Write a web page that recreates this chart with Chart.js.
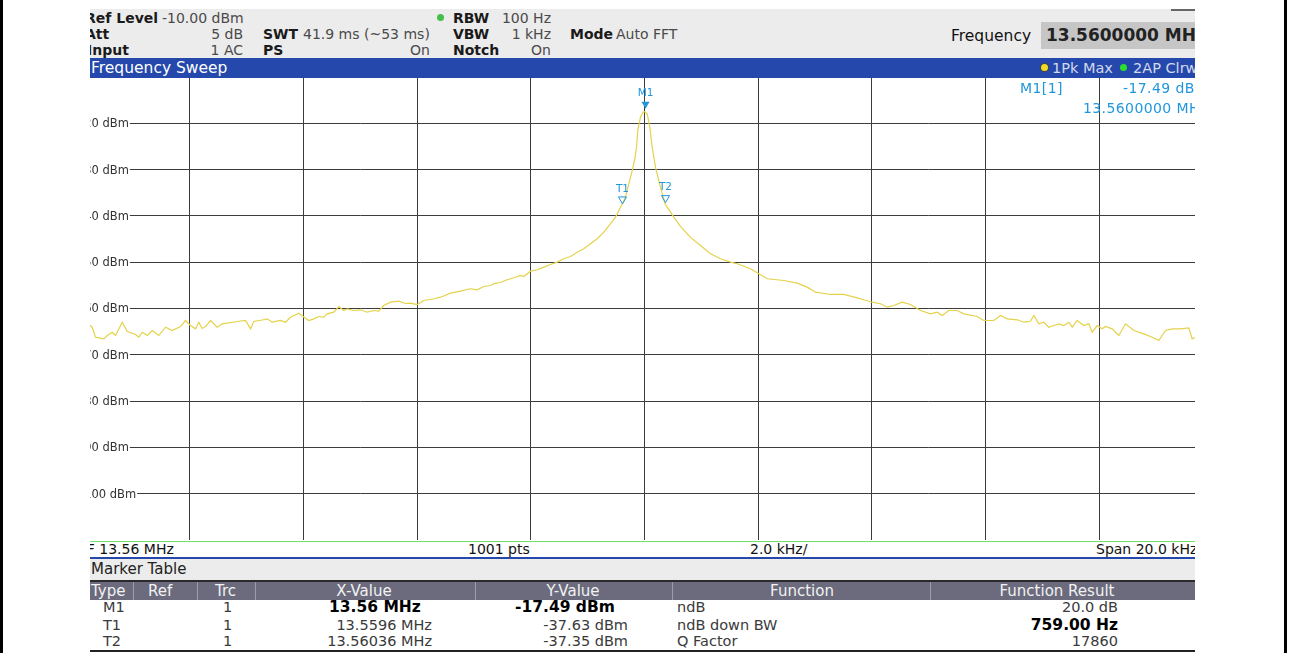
<!DOCTYPE html>
<html>
<head>
<meta charset="utf-8">
<title>Frequency Sweep</title>
<script src="https://cdn.jsdelivr.net/npm/chart.js@4.4.1/dist/chart.umd.min.js"></script>
<style>
  body { margin: 0; width: 1294px; height: 653px; background: #fff; position: relative; overflow: hidden;
         font-family: "DejaVu Sans", sans-serif; }
  .box { position: absolute; overflow: hidden; }
  .t { position: absolute; white-space: nowrap; line-height: 16px; height: 16px; font-size: 14px; color: #4a4a4a; }
  .b { font-weight: bold; color: #1a1a1a; }
  .c { transform: translateX(-50%); }
  .edge { position: absolute; top: 0; width: 3px; height: 653px; background: #000; }
  .dot { position: absolute; width: 7px; height: 7px; border-radius: 50%; }
  .sep { position: absolute; top: 0; width: 1px; height: 18px; background: #9c9cac; }
  #hdr { left: 90px; top: 9px; width: 1105px; height: 49px; background: #ececec; }
  #bar { left: 90px; top: 58px; width: 1105px; height: 20px; background: #2448ac; }
  #bar .t { line-height: 20px; height: 20px; color: #d4dae8; font-size: 14.5px; }
  #plot { left: 90px; top: 78px; width: 1105px; height: 463px; background: #fff; }
  #plot canvas { position: absolute; left: -14px; top: -1px; }
  #plot .t { color: #2196dc; font-size: 14px; letter-spacing: 0.4px; }
  #stat { left: 90px; top: 542px; width: 1105px; height: 15px; }
  #stat .t { line-height: 15px; height: 15px; color: #111; }
  #mtitle { left: 90px; top: 559px; width: 1105px; height: 21px; background: #ececec; }
  #mhead { left: 90px; top: 582px; width: 1105px; height: 18px; background: #6b6b7d; }
  #mhead .t { line-height: 18px; height: 18px; color: #f2f2f2; font-size: 15px; }
  #mrows { left: 90px; top: 600px; width: 1105px; height: 50px; }
  #mrows .t { font-size: 14.5px; color: #3a3a3a; }
  #mrows .b { font-size: 15.5px; color: #000; }
</style>
</head>
<body>
<div class="edge" style="left:0"></div>
<div class="edge" style="left:1284px"></div>

<div id="hdr" class="box">
  <span class="t b" style="left:-5px;top:1px">Ref Level</span>
  <span class="t" style="left:72px;top:1px">-10.00 dBm</span>
  <span class="t b" style="left:-5px;top:17px">Att</span>
  <span class="t" style="right:952px;top:17px">5 dB</span>
  <span class="t b" style="left:-3px;top:33px">Input</span>
  <span class="t" style="right:952px;top:33px">1 AC</span>
  <span class="t b" style="left:173px;top:17px">SWT</span>
  <span class="t" style="left:213px;top:17px">41.9 ms (~53 ms)</span>
  <span class="t b" style="left:173px;top:33px">PS</span>
  <span class="t" style="right:765px;top:33px">On</span>
  <span class="dot" style="left:347px;top:5px;background:#43c04a"></span>
  <span class="t b" style="left:363px;top:1px">RBW</span>
  <span class="t" style="right:644px;top:1px">100 Hz</span>
  <span class="t b" style="left:363px;top:17px">VBW</span>
  <span class="t" style="right:644px;top:17px">1 kHz</span>
  <span class="t b" style="left:363px;top:33px">Notch</span>
  <span class="t" style="right:644px;top:33px">On</span>
  <span class="t b" style="left:480px;top:17px">Mode</span>
  <span class="t" style="left:526px;top:17px">Auto FFT</span>
  <span class="t" style="left:861px;top:18px;font-size:15.5px;line-height:18px;height:18px;color:#111">Frequency</span>
  <div class="box" style="left:951px;top:13px;width:160px;height:27px;background:#c6c6c6">
    <span class="t b" style="left:5px;top:0;line-height:27px;height:27px;font-size:17px;color:#222">13.5600000 MHz</span>
  </div>
  <div class="box" style="left:1081px;top:0;width:30px;height:2px;background:#666"></div>
</div>

<div id="bar" class="box">
  <span class="t" style="left:1px;top:0;color:#fff;font-size:15.5px">Frequency Sweep</span>
  <span class="dot" style="left:951px;top:6px;background:#f0dc28;box-shadow:0 0 0 1px #444"></span>
  <span class="t" style="left:962px;top:0">1Pk Max</span>
  <span class="dot" style="left:1030px;top:6px;background:#2ee02e"></span>
  <span class="t" style="left:1043px;top:0">2AP Clrw</span>
</div>

<div id="plot" class="box">
  <canvas id="sweep" width="1137" height="463"></canvas>
  <span class="t" style="left:930px;top:2px">M1[1]</span>
  <span class="t" style="left:1033px;top:2px">-17.49 dBm</span>
  <span class="t" style="left:993px;top:22px">13.5600000 MHz</span>
</div>

<div class="box" style="left:90px;top:541px;width:1105px;height:1px;background:#6ee36e"></div>
<div id="stat" class="box">
  <span class="t" style="left:-13px;top:0">CF 13.56 MHz</span>
  <span class="t" style="left:378px;top:0">1001 pts</span>
  <span class="t" style="left:660px;top:0">2.0 kHz/</span>
  <span class="t" style="left:1006px;top:0">Span 20.0 kHz</span>
</div>
<div class="box" style="left:90px;top:557px;width:1105px;height:2px;background:#2448ac"></div>
<div id="mtitle" class="box">
  <span class="t" style="left:1px;top:0;line-height:21px;height:21px;font-size:15px;color:#222">Marker Table</span>
</div>
<div class="box" style="left:90px;top:580px;width:1105px;height:2px;background:#2a2a2a"></div>
<div id="mhead" class="box">
  <span class="t" style="left:1px;top:0">Type</span>
  <span class="sep" style="left:43px"></span>
  <span class="t" style="left:58px;top:0">Ref</span>
  <span class="sep" style="left:107px"></span>
  <span class="t" style="left:125px;top:0">Trc</span>
  <span class="sep" style="left:165px"></span>
  <span class="t c" style="left:274px;top:0">X-Value</span>
  <span class="sep" style="left:385px"></span>
  <span class="t c" style="left:483px;top:0">Y-Value</span>
  <span class="sep" style="left:582px"></span>
  <span class="t c" style="left:712px;top:0">Function</span>
  <span class="sep" style="left:840px"></span>
  <span class="t c" style="left:967px;top:0">Function Result</span>
</div>
<div id="mrows" class="box">
  <span class="t" style="left:13px;top:-1px">M1</span>
  <span class="t" style="left:133px;top:-1px">1</span>
  <span class="t b" style="left:239px;top:-1px">13.56 MHz</span>
  <span class="t b" style="left:425px;top:-1px">-17.49 dBm</span>
  <span class="t" style="left:587px;top:-1px">ndB</span>
  <span class="t" style="right:77px;top:-1px">20.0 dB</span>

  <span class="t" style="left:13px;top:17px">T1</span>
  <span class="t" style="left:133px;top:17px">1</span>
  <span class="t" style="right:763px;top:17px">13.5596 MHz</span>
  <span class="t" style="right:567px;top:17px">-37.63 dBm</span>
  <span class="t" style="left:587px;top:17px">ndB down BW</span>
  <span class="t b" style="right:77px;top:17px">759.00 Hz</span>

  <span class="t" style="left:13px;top:33px">T2</span>
  <span class="t" style="left:133px;top:33px">1</span>
  <span class="t" style="right:763px;top:33px">13.56036 MHz</span>
  <span class="t" style="right:567px;top:33px">-37.35 dBm</span>
  <span class="t" style="left:587px;top:33px">Q Factor</span>
  <span class="t" style="right:77px;top:33px">17860</span>
</div>
<div class="box" style="left:90px;top:650px;width:1105px;height:2px;background:#222"></div>

<script>
// trace 1 (1Pk Max), offset from CF 13.56 MHz in kHz and level in dBm
const offsetKHz = [
  -9.800, -9.715, -9.657, -9.511, -9.451, -9.363, -9.305, -9.187, -9.099, -8.953,
  -8.895, -8.835, -8.747, -8.659, -8.543, -8.426, -8.308, -8.162, -8.074, -7.986,
  -7.898, -7.840, -7.780, -7.722, -7.634, -7.516, -7.428, -7.164, -7.018, -6.930,
  -6.873, -6.725, -6.637, -6.549, -6.403, -6.315, -6.227, -6.081, -6.003, -5.905,
  -5.817, -5.729, -5.641, -5.581, -5.465, -5.377, -5.289, -5.230, -5.113, -4.996,
  -4.878, -4.762, -4.674, -4.586, -4.468, -4.322, -4.204, -4.116, -3.998, -3.882,
  -3.706, -3.588, -3.412, -3.236, -3.060, -2.942, -2.826, -2.709, -2.621, -2.533,
  -2.415, -2.299, -2.181, -2.123, -2.005, -1.887, -1.771, -1.653, -1.536, -1.420,
  -1.302, -1.184, -1.068, -0.950, -0.832, -0.716, -0.598, -0.510, -0.400, -0.334,
  -0.290, -0.216, -0.176, -0.141, -0.118, -0.070, -0.023, 0.000, 0.047, 0.093,
  0.135, 0.193, 0.281, 0.360, 0.515, 0.633, 0.809, 0.985, 1.161, 1.337,
  1.513, 1.631, 1.865, 2.011, 2.159, 2.450, 2.686, 2.862, 3.008, 3.272,
  3.506, 3.741, 3.858, 4.005, 4.151, 4.269, 4.385, 4.533, 4.679, 4.855,
  5.031, 5.149, 5.237, 5.353, 5.501, 5.617, 5.852, 5.968, 6.144, 6.262,
  6.380, 6.556, 6.672, 6.790, 6.848, 6.936, 7.024, 7.112, 7.200, 7.288,
  7.376, 7.464, 7.524, 7.612, 7.728, 7.816, 7.875, 7.963, 8.051, 8.109,
  8.227, 8.343, 8.461, 8.607, 8.783, 8.931, 9.047, 9.164, 9.282, 9.428,
  9.574, 9.634, 9.692, 9.800
];
const levelDbm = [
  -63.20, -64.04, -66.20, -66.55, -65.84, -65.12, -65.84, -62.96, -64.97, -65.62,
  -66.20, -65.12, -65.84, -64.76, -65.84, -64.04, -64.76, -63.89, -62.59, -63.68,
  -64.39, -62.96, -64.32, -63.89, -62.59, -64.04, -63.31, -62.81, -62.59, -64.39,
  -62.81, -62.49, -62.23, -62.96, -62.59, -62.96, -61.88, -61.02, -61.73, -62.59,
  -62.23, -61.73, -61.88, -61.15, -60.80, -59.57, -60.43, -60.07, -60.43, -60.28,
  -60.80, -60.43, -60.58, -59.35, -58.64, -58.42, -58.92, -58.85, -59.14, -58.27,
  -57.90, -57.56, -56.69, -56.26, -55.74, -55.96, -55.24, -55.03, -54.53, -54.38,
  -53.79, -53.36, -52.86, -53.08, -51.94, -51.63, -51.07, -50.49, -49.99, -49.25,
  -48.76, -47.83, -47.09, -46.01, -44.93, -43.50, -41.69, -40.26, -37.63, -35.94,
  -33.80, -30.20, -28.00, -25.30, -21.51, -18.64, -17.56, -17.49, -17.90, -20.80,
  -25.12, -29.45, -33.77, -37.35, -40.26, -42.27, -44.65, -46.38, -48.17, -49.25,
  -49.99, -50.34, -51.42, -52.50, -53.58, -53.95, -54.53, -55.39, -56.48, -56.97,
  -56.97, -57.69, -58.12, -58.64, -58.98, -59.72, -59.35, -58.64, -59.14, -60.43,
  -61.15, -60.80, -61.51, -60.43, -60.43, -61.15, -61.73, -62.59, -62.59, -61.51,
  -62.23, -62.44, -62.96, -62.75, -61.51, -63.31, -62.96, -64.04, -63.68, -63.31,
  -63.68, -62.96, -64.04, -62.59, -63.68, -63.31, -65.12, -63.68, -64.39, -63.89,
  -64.39, -65.84, -63.31, -64.76, -65.47, -66.20, -66.92, -64.76, -64.39, -64.39,
  -64.17, -66.55, -66.20, -65.60
];

// markers from the marker table
const centerMHz = 13.56;
const markerNames = ['M1', 'T1', 'T2'];
const markerFreqMHz = [13.56, 13.5596, 13.56036];
const markerLevels = [-17.49, -37.63, -37.35];

// level axis labels
const yTickValues = [-20, -30, -40, -50, -60, -70, -80, -90, -100];
const yTickLabels = ['-20 dBm', '-30 dBm', '-40 dBm', '-50 dBm', '-60 dBm', '-70 dBm', '-80 dBm', '-90 dBm', '-100 dBm'];

const BLUE = '#2196dc';

// level labels sit inside the diagram, grid line starts after the text
const dbmLabels = {
  id: 'dbmLabels',
  beforeDatasetsDraw(chart) {
    const { ctx, chartArea, scales } = chart;
    ctx.save();
    ctx.font = '11.5px "DejaVu Sans"';
    ctx.textBaseline = 'middle';
    yTickValues.forEach((v, i) => {
      const y = scales.y.getPixelForValue(v);
      const w = ctx.measureText(yTickLabels[i]).width;
      ctx.fillStyle = '#fff';
      ctx.fillRect(chartArea.left, y - 2, w + 5, 4);
      ctx.fillStyle = '#333';
      ctx.fillText(yTickLabels[i], chartArea.left + 4, y + 1);
    });
    ctx.restore();
  }
};

// marker symbols: M1 filled, T1/T2 hollow
const markerSymbols = {
  id: 'markerSymbols',
  afterDatasetsDraw(chart) {
    const { ctx, scales } = chart;
    ctx.save();
    ctx.font = '10.5px "DejaVu Sans"';
    ctx.textAlign = 'center';
    ctx.textBaseline = 'middle';
    markerNames.forEach((name, i) => {
      const px = Math.round(scales.x.getPixelForValue((markerFreqMHz[i] - centerMHz) * 1000)) + 0.5;
      const py = scales.y.getPixelForValue(markerLevels[i]);
      const filled = name.startsWith('M');
      const tip = py - (filled ? 3 : 1);
      ctx.beginPath();
      ctx.moveTo(px - 4, tip - 7);
      ctx.lineTo(px + 4, tip - 7);
      ctx.lineTo(px, tip);
      ctx.closePath();
      ctx.strokeStyle = BLUE;
      ctx.fillStyle = BLUE;
      ctx.lineWidth = 1;
      if (filled) ctx.fill(); else ctx.stroke();
      ctx.fillText(name, px, tip - 15);
    });
    ctx.restore();
  }
};

const gridColor = (edgeA, edgeB) => (c) =>
  (c.tick && (c.tick.value === edgeA || c.tick.value === edgeB)) ? 'rgba(0,0,0,0)' : '#3c3c3c';

const ctx = document.getElementById('sweep').getContext('2d');
const sweepChart = new Chart(ctx, {
  type: 'line',
  data: {
    datasets: [{
      label: '1Pk Max',
      data: offsetKHz.map((k, i) => ({ x: k, y: levelDbm[i] })),
      borderColor: '#e4d24a',
      borderWidth: 1.2,
      pointRadius: 0,
      tension: 0,
    }]
  },
  options: {
    responsive: false,
    animation: false,
    layout: { padding: 0 },
    plugins: { legend: { display: false }, tooltip: { enabled: false } },
    scales: {
      x: {
        type: 'linear',
        min: -10,
        max: 10,
        ticks: { stepSize: 2, display: false },
        grid: { color: gridColor(-10, 10), drawTicks: false, lineWidth: 1 },
        border: { display: false }
      },
      y: {
        min: -110,
        max: -10,
        ticks: { stepSize: 10, display: false },
        grid: { color: gridColor(-110, -10), drawTicks: false, lineWidth: 1 },
        border: { display: false }
      }
    }
  },
  plugins: [dbmLabels, markerSymbols]
});
</script>
</body>
</html>
